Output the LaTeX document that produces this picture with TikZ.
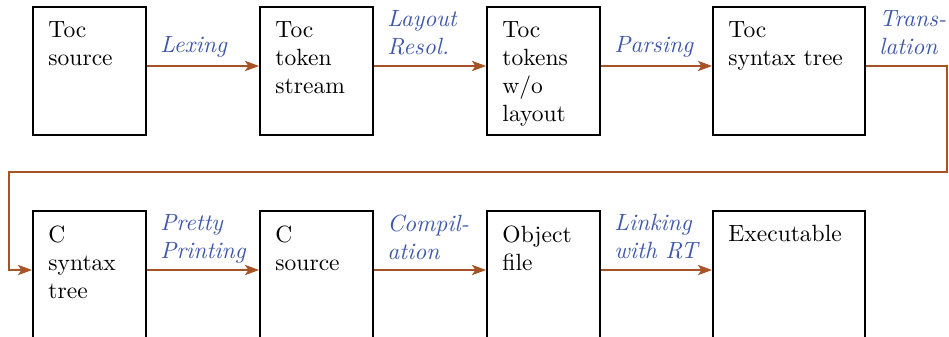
\documentclass[tikz,border=0pt]{standalone}
\usetikzlibrary{arrows.meta}
\definecolor{flowbrown}{RGB}{166,84,38}
\definecolor{steplabel}{RGB}{64,88,170}
\begin{document}
\begin{tikzpicture}[x=0.4255pt,y=-0.4255pt,
  stage/.style={draw=black, line width=0.8pt, rectangle, inner sep=0pt,
    anchor=north west, minimum width=48.09pt, minimum height=54.47pt},
  widestage/.style={minimum width=64.68pt},
  lowstage/.style={minimum height=56.6pt},
  stagetext/.style={anchor=north west, inner sep=0pt, align=left},
  steplbl/.style={anchor=north west, inner sep=0pt, align=left,
    text=steplabel, font=\itshape},
  flow/.style={draw=flowbrown, line width=0.45pt,
    -{Stealth[length=6pt,width=4.4pt,inset=1.5pt]}}]
\useasboundingbox (0,0) rectangle (949,337);

% upper row: the Toc front end
\node[stage] (b1) at (32,6) {};
\node[stage] (b2) at (259,6) {};
\node[stage] (b3) at (486,6) {};
\node[stage, widestage] (b4) at (712,6) {};
% lower row: the C back end
\node[stage, lowstage] (c1) at (32,210) {};
\node[stage, lowstage] (c2) at (259,210) {};
\node[stage, lowstage] (c3) at (486,210) {};
\node[stage, lowstage, widestage] (c4) at (712,210) {};

% box contents
\node[stagetext] (tb1) at ([shift={(16,15)}]b1.north west) {Toc\\source};
\node[stagetext] (tb2) at ([shift={(16,15)}]b2.north west) {Toc\\token\\stream};
\node[stagetext] (tb3) at ([shift={(16,15)}]b3.north west) {Toc\\tokens\\w/o\\layout};
\node[stagetext] (tb4) at ([shift={(16,15)}]b4.north west) {Toc\\syntax tree};
\node[stagetext] (tc1) at ([shift={(16,15)}]c1.north west) {C\\syntax\\tree};
\node[stagetext] (tc2) at ([shift={(16,15)}]c2.north west) {C\\source};
\node[stagetext] (tc3) at ([shift={(16,15)}]c3.north west) {Object\\file};
\node[stagetext] (tc4) at ([shift={(16,15)}]c4.north west) {Executable};

% step labels
\node[steplbl] (l1) at ([shift={(13,30)}]b1.north east) {Lexing};
\node[steplbl] (l2) at ([shift={(13,4)}]b2.north east) {Layout\\Resol.};
\node[steplbl] (l3) at ([shift={(13,30)}]b3.north east) {Parsing};
\node[steplbl] (l4) at ([shift={(13,4)}]b4.north east) {Trans-\\lation};
\node[steplbl] (m1) at ([shift={(13,4)}]c1.north east) {Pretty\\Printing};
\node[steplbl] (m2) at ([shift={(13,4)}]c2.north east) {Compil-\\ation};
\node[steplbl] (m3) at ([shift={(13,4)}]c3.north east) {Linking\\with RT};

% connectors
\draw[flow] ([shift={(0,60)}]b1.north east) -- ([shift={(0,60)}]b2.north west);
\draw[flow] ([shift={(0,60)}]b2.north east) -- ([shift={(0,60)}]b3.north west);
\draw[flow] ([shift={(0,60)}]b3.north east) -- ([shift={(0,60)}]b4.north west);
\coordinate (loopR) at (947,172);
\coordinate (loopL) at (9,172);
\draw[flow] ([shift={(0,60)}]b4.north east) -| (loopR) -- (loopL)
  |- ([shift={(0,60)}]c1.north west);
\draw[flow] ([shift={(0,60)}]c1.north east) -- ([shift={(0,60)}]c2.north west);
\draw[flow] ([shift={(0,60)}]c2.north east) -- ([shift={(0,60)}]c3.north west);
\draw[flow] ([shift={(0,60)}]c3.north east) -- ([shift={(0,60)}]c4.north west);
\end{tikzpicture}
\end{document}
